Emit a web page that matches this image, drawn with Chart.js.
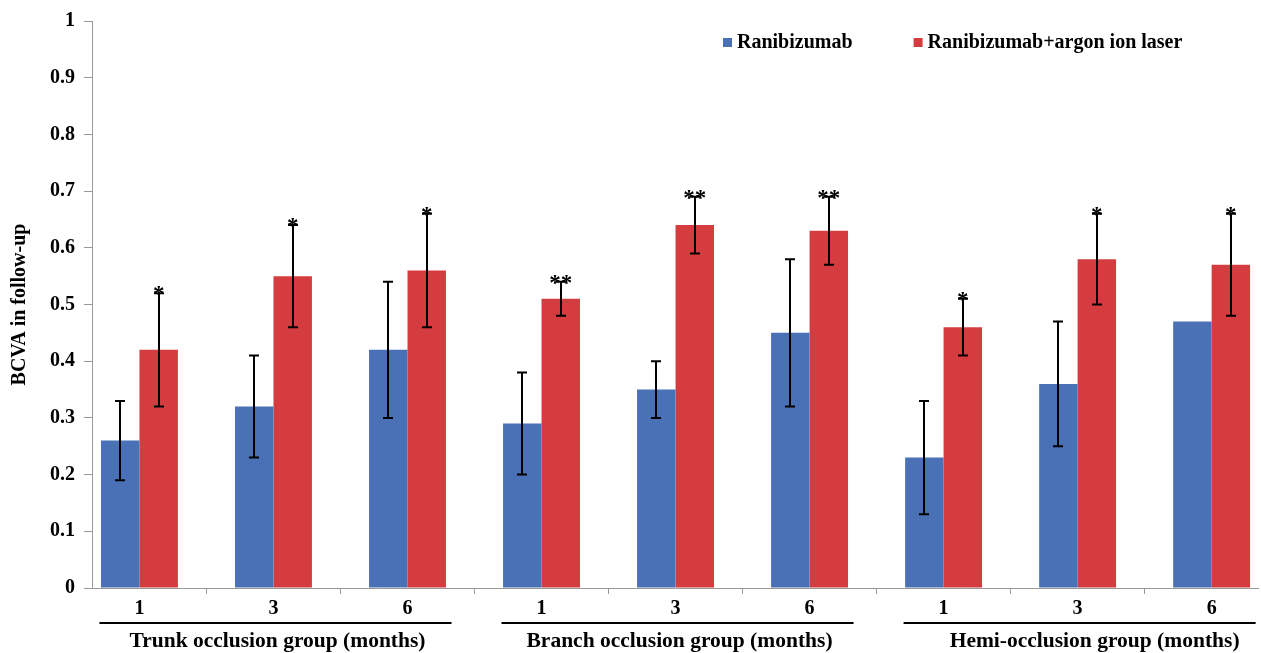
<!DOCTYPE html>
<html>
<head>
<meta charset="utf-8">
<script src="https://cdn.jsdelivr.net/npm/chart.js@4.4.1/dist/chart.umd.min.js"></script>
<style>
  html, body { margin: 0; padding: 0; background: #fff; }
  #wrap { width: 1261px; height: 653px; position: relative; }
</style>
</head>
<body>
<div id="wrap"><canvas id="chart"></canvas></div>
<script>
// ---- data ----
const MONTHS    = ['1', '3', '6', '1', '3', '6', '1', '3', '6'];
const GROUPS    = ['Trunk occlusion group (months)', 'Branch occlusion group (months)', 'Hemi-occlusion group (months)'];
const SERIES    = ['Ranibizumab', 'Ranibizumab+argon ion laser'];
const RANI      = [0.26, 0.32, 0.42, 0.29, 0.35, 0.45, 0.23, 0.36, 0.47];
const LASER     = [0.42, 0.55, 0.56, 0.51, 0.64, 0.63, 0.46, 0.58, 0.57];
const RANI_ERR  = [0.07, 0.09, 0.12, 0.09, 0.05, 0.13, 0.10, 0.11, 0];
const LASER_ERR = [0.10, 0.09, 0.10, 0.03, 0.05, 0.06, 0.05, 0.08, 0.09];
const LASER_SIG = ['*', '*', '*', '**', '**', '**', '*', '*', '*'];
const Y_MIN = 0, Y_MAX = 1, Y_STEP = 0.1;

const BLUE = '#4a71b6';
const RED  = '#d53c40';
const AXIS = '#9a9a9a';
const FONT = '"Liberation Serif", "Times New Roman", serif';

// first category starts a bit left of the y axis in the original
const X_START = -0.354;
const X_RANGE = 8.70;

const overlay = {
  id: 'overlay',
  afterDatasetsDraw(chart) {
    const { ctx, scales: { x, y } } = chart;
    ctx.save();
    ctx.strokeStyle = '#000';
    ctx.lineWidth = 2;
    [RANI_ERR, LASER_ERR].forEach((errs, di) => {
      const vals = chart.data.datasets[di].data;
      chart.getDatasetMeta(di).data.forEach((bar, i) => {
        if (!errs[i]) return;
        const top = y.getPixelForValue(vals[i] + errs[i]);
        const bot = y.getPixelForValue(vals[i] - errs[i]);
        const cx = Math.round(bar.x);
        ctx.beginPath();
        ctx.moveTo(cx, top); ctx.lineTo(cx, bot);
        ctx.moveTo(cx - 5, top); ctx.lineTo(cx + 5, top);
        ctx.moveTo(cx - 5, bot); ctx.lineTo(cx + 5, bot);
        ctx.stroke();
      });
    });
    // significance marks over the laser bars
    ctx.fillStyle = '#000';
    ctx.font = 'bold 23px ' + FONT;
    ctx.textAlign = 'center';
    ctx.textBaseline = 'middle';
    chart.getDatasetMeta(1).data.forEach((bar, i) => {
      const top = y.getPixelForValue(LASER[i] + LASER_ERR[i]);
      ctx.fillText(LASER_SIG[i], bar.x, top + 2);
    });
    ctx.restore();
  },
  afterDraw(chart) {
    const { ctx, scales: { x } } = chart;
    ctx.save();
    // legend
    ctx.font = 'bold 20px ' + FONT;
    ctx.textBaseline = 'middle';
    ctx.textAlign = 'left';
    let lx = 723;
    SERIES.forEach((name, i) => {
      ctx.fillStyle = chart.data.datasets[i].backgroundColor;
      ctx.fillRect(lx, 38, 9, 9);
      ctx.fillStyle = '#000';
      ctx.fillText(name, lx + 14, 43);
      lx += 14 + ctx.measureText(name).width + 61;
    });
    // group underlines + labels
    const shift = [2, 2, 15];
    ctx.strokeStyle = '#000';
    ctx.lineWidth = 2;
    ctx.font = 'bold 21.5px ' + FONT;
    ctx.textAlign = 'center';
    GROUPS.forEach((g, gi) => {
      const a = x.getPixelForValue(gi * 3) - 40;
      const b = x.getPixelForValue(gi * 3 + 2) + 44;
      ctx.beginPath();
      ctx.moveTo(a, 623); ctx.lineTo(b, 623);
      ctx.stroke();
      ctx.fillText(g, (a + b) / 2 + shift[gi], 641);
    });
    ctx.restore();
  }
};

new Chart(document.getElementById('chart'), {
  type: 'bar',
  data: {
    labels: MONTHS,
    datasets: [
      { label: SERIES[0], data: RANI,  backgroundColor: BLUE, borderWidth: 0 },
      { label: SERIES[1], data: LASER, backgroundColor: RED,  borderWidth: 0 }
    ]
  },
  options: {
    responsive: true,
    maintainAspectRatio: false,
    animation: false,
    layout: { padding: { top: 21, right: 3, left: 0, bottom: 0 } },
    datasets: { bar: { categoryPercentage: 0.574, barPercentage: 1.0 } },
    plugins: { legend: { display: false }, tooltip: { enabled: false } },
    scales: {
      x: {
        offset: true,
        afterBuildTicks(s) { s._startValue = X_START; s._valueRange = X_RANGE; },
        afterFit(s) { s.height = 65; },
        grid: { offset: true, drawOnChartArea: false, drawTicks: true, tickLength: 6, color: AXIS },
        border: { color: AXIS, width: 1 },
        ticks: { color: '#000', padding: 3, font: { family: FONT, size: 20, weight: 'bold' } }
      },
      y: {
        min: Y_MIN, max: Y_MAX,
        afterFit(s) { s.width = 92; },
        grid: { drawOnChartArea: false, drawTicks: true, tickLength: 8, color: AXIS },
        border: { color: AXIS, width: 1 },
        ticks: { stepSize: Y_STEP, color: '#000', padding: 9, font: { family: FONT, size: 20, weight: 'bold' },
                 callback: v => String(Number(v.toFixed(1))) },
        title: { display: true, text: 'BCVA in follow-up', color: '#000', padding: { top: 8, bottom: 0 },
                 font: { family: FONT, size: 20, weight: 'bold' } }
      }
    }
  },
  plugins: [overlay]
});
</script>
</body>
</html>
